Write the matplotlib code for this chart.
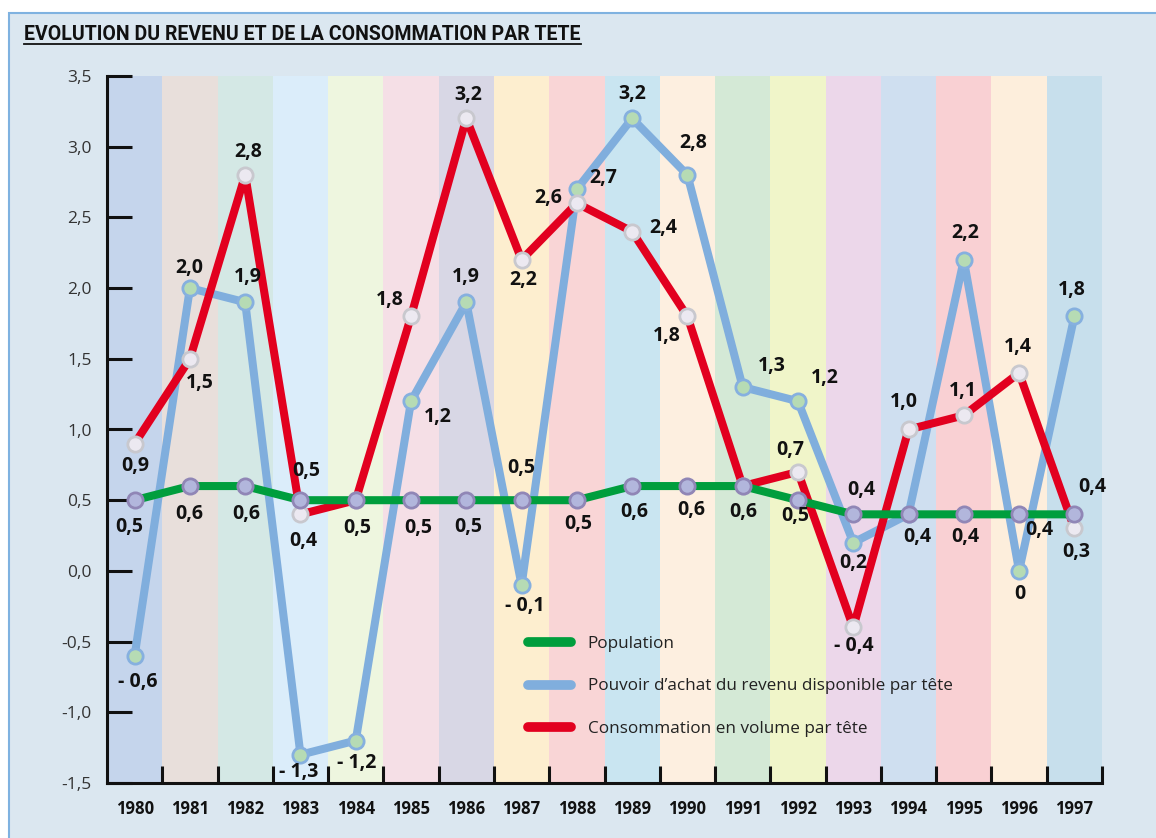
import matplotlib
matplotlib.use("Agg")
import matplotlib.pyplot as plt
from matplotlib.patches import Rectangle
from matplotlib.lines import Line2D
from matplotlib.ticker import FuncFormatter, FixedLocator
import numpy as np

# Data
years = [1980, 1981, 1982, 1983, 1984, 1985, 1986, 1987, 1988,
         1989, 1990, 1991, 1992, 1993, 1994, 1995, 1996, 1997]
population = [0.5, 0.6, 0.6, 0.5, 0.5, 0.5, 0.5, 0.5, 0.5,
              0.6, 0.6, 0.6, 0.5, 0.4, 0.4, 0.4, 0.4, 0.4]
pouvoir_achat = [-0.6, 2.0, 1.9, -1.3, -1.2, 1.2, 1.9, -0.1, 2.7,
                 3.2, 2.8, 1.3, 1.2, 0.2, 0.4, 2.2, 0.0, 1.8]
consommation = [0.9, 1.5, 2.8, 0.4, 0.5, 1.8, 3.2, 2.2, 2.6,
                2.4, 1.8, 0.6, 0.7, -0.4, 1.0, 1.1, 1.4, 0.3]
series_names = ["Population",
                "Pouvoir d\u2019achat du revenu disponible par tête",
                "Consommation en volume par tête"]
title = "EVOLUTION DU REVENU ET DE LA CONSOMMATION PAR TETE"

# Layout / style
W, H = 1156, 838
band_colors = ["#c5d5ec", "#e8dfdb", "#d4e8e5", "#dbedfa", "#eef6df", "#f5dfe6",
               "#d8d7e5", "#fdeecf", "#f9d5d6", "#c9e5f1", "#fdefe0", "#d4e9d6",
               "#f0f5c9", "#ecd7ea", "#cfdff0", "#f9d0d3", "#fdeedc", "#c7dfec"]
bg = "#dbe7f0"
green, blue, red = "#009e3d", "#80aedd", "#e2001f"

# label offsets in pixels (dx, dy up); None = no label
pop_off = [(-5, -27), (-1, -28), (1, -28), (6, 29), (2, -28), (7, -28), (2, -27),
           (0, 32), (1, -24), (2, -26), (4, -24), (1, -26), (-3, -16), (8, 24),
           (9, -23), (1, -23), (20, -16), (18, 27)]
blue_off = [(3, -26), (-1, 20), (3, 25), (-2, -17), (1, -22), (27, -16), (0, 25),
            (3, -21), (26, 11), (0, 24), (6, 32), (29, 21), (27, 23), (0, -20),
            None, (1, 27), (1, -23), (-3, 26)]
red_off = [(1, -22), (10, -24), (3, 23), (3, -27), None, (-21, 16), (2, 23),
           (2, -20), (-29, 5), (31, 4), (-21, -20), None, (-8, 22), (1, -19),
           (-5, 27), (-1, 24), (-1, 26), (2, -24)]

plt.rcParams['font.family'] = ['Open Sans', 'DejaVu Sans']

fig = plt.figure(figsize=(W / 100, H / 100), dpi=100, facecolor="white")
# panel background with thin blue frame
fig.patches.append(Rectangle((9 / W, -0.1), 1.2, (H - 13) / H + 0.1,
                             transform=fig.transFigure, facecolor=bg,
                             edgecolor="#7fb2e0", linewidth=1.5, zorder=-10))

ax = fig.add_axes([107 / W, 55 / H, 995 / W, 707 / H])
ax.set_facecolor("none")
x = np.arange(len(years))

ax.bar(x, 5.0, bottom=-1.5, width=1.0, color=band_colors, zorder=0, linewidth=0)

lw = 5.8
ax.plot(x, pouvoir_achat, color=blue, lw=lw, zorder=2, solid_joinstyle="round",
        marker="o", ms=11, mfc="#b6dbb4", mec="#86b0df", mew=2)
ax.plot(x, consommation, color=red, lw=lw, zorder=3, solid_joinstyle="round",
        marker="o", ms=11, mfc="#ece9f1", mec="#c8c8ce", mew=2)
ax.plot(x, population, color=green, lw=lw, zorder=4, solid_joinstyle="round",
        marker="o", ms=11, mfc="#b2b6dc", mec="#9086b6", mew=2)


def fmt(v):
    if v == 0:
        return "0"
    s = f"{abs(v):.1f}".replace(".", ",")
    return "- " + s if v < 0 else s


for vals, offs in [(population, pop_off), (pouvoir_achat, blue_off), (consommation, red_off)]:
    for i, v in enumerate(vals):
        if offs[i] is None:
            continue
        ax.annotate(fmt(v), (x[i], v), xytext=offs[i], textcoords="offset pixels",
                    ha="center", va="center", fontsize=14, fontweight="bold",
                    color="#111111", zorder=6)

ax.set_xlim(-0.5, len(years) - 0.5)
ax.set_ylim(-1.5, 3.5)
for s in ["top", "right"]:
    ax.spines[s].set_visible(False)
for s in ["left", "bottom"]:
    ax.spines[s].set_linewidth(2.2)
    ax.spines[s].set_color("#111111")
    ax.spines[s].set_zorder(7)

ax.set_yticks(np.arange(-1.5, 3.51, 0.5))
ax.yaxis.set_major_formatter(FuncFormatter(lambda v, p: f"{v:.1f}".replace(".", ",")))
ax.tick_params(axis="y", direction="in", length=18, width=2.2, pad=11,
               labelsize=12.5, labelcolor="#333333", color="#111111")

ax.set_xticks(x)
ax.set_xticklabels([str(y) for y in years], fontweight="bold", fontsize=12)
ax.tick_params(axis="x", which="major", length=0, pad=12, labelcolor="#111111")
ax.xaxis.set_minor_locator(FixedLocator(list(x + 0.5)))
ax.tick_params(axis="x", which="minor", direction="in", length=12, width=2.2,
               color="#111111")

handles = [Line2D([], [], color=c, lw=7, solid_capstyle="round")
           for c in (green, blue, red)]
ax.legend(handles, series_names, loc="upper left",
          bbox_to_anchor=(528 / W, 1 - 636 / H), bbox_transform=fig.transFigure,
          frameon=False, fontsize=12.3, handlelength=2.5, handletextpad=1.0,
          labelspacing=1.55, borderpad=0, borderaxespad=0, labelcolor="#222222")

# title, scaled to its width in the reference, with underline
t = fig.text(24 / W, 1 - 34 / H, title, ha="left", va="center",
             family=["Roboto", "DejaVu Sans"], fontweight="bold",
             fontsize=14, color="#111111")
fig.canvas.draw()
bb = t.get_window_extent()
t.set_fontsize(14 * 560 / bb.width)
fig.canvas.draw()
bb = t.get_window_extent()
fig.add_artist(Line2D([bb.x0 / W, bb.x1 / W], [(bb.y0 - 1) / H] * 2,
                      transform=fig.transFigure, color="#111111", lw=1.3))

fig.savefig("out.png", dpi=100, facecolor=fig.get_facecolor())
